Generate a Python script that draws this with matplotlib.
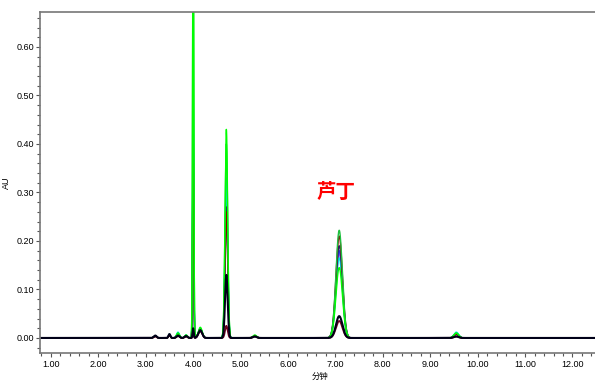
import numpy as np
import matplotlib
matplotlib.use('Agg')
import matplotlib.pyplot as plt
from matplotlib.ticker import MultipleLocator

plt.rcParams['font.family'] = ['Liberation Sans', 'Noto Sans CJK SC', 'DejaVu Sans']

# peak table: retention time (min), width (sigma, min)
rt     = [3.20, 3.50, 3.68, 3.85, 4.00, 4.15, 4.70, 5.30, 7.08, 9.55]
sigma  = [0.03, 0.02, 0.03, 0.03, 0.012, 0.04, 0.028, 0.04, 0.068, 0.05]

# peak heights (AU) for each injection
h_magenta = [0.004, 0.006, 0.008, 0.004, 0.38, 0.018, 0.285, 0.004, 0.175, 0.008]
h_blue    = [0.004, 0.006, 0.008, 0.004, 0.40, 0.018, 0.300, 0.004, 0.180, 0.008]
h_cyan    = [0.004, 0.008, 0.012, 0.006, 0.50, 0.020, 0.330, 0.005, 0.165, 0.012]
h_navy    = [0.004, 0.006, 0.008, 0.004, 0.42, 0.018, 0.270, 0.004, 0.190, 0.008]
h_darkred = [0.004, 0.006, 0.008, 0.004, 0.36, 0.018, 0.260, 0.004, 0.210, 0.008]
h_green   = [0.004, 0.006, 0.010, 0.006, 0.90, 0.020, 0.400, 0.005, 0.222, 0.010]
h_lime    = [0.004, 0.006, 0.010, 0.006, 0.95, 0.022, 0.430, 0.006, 0.145, 0.010]
h_maroon  = [0.003, 0.006, 0.004, 0.003, 0.012, 0.014, 0.025, 0.003, 0.035, 0.003]
h_black   = [0.005, 0.008, 0.005, 0.004, 0.020, 0.016, 0.130, 0.003, 0.045, 0.003]

traces = [
    (h_magenta, '#d040e0', 1.0),
    (h_blue, '#2040ff', 1.0),
    (h_cyan, '#00e8e8', 1.0),
    (h_navy, '#202070', 1.0),
    (h_darkred, '#8b0000', 1.0),
    (h_green, '#20c040', 1.0),
    (h_lime, '#00ff00', 1.0),
    (h_maroon, '#700020', 1.3),
    (h_black, '#000018', 1.5),
]

t = np.linspace(0.8, 12.6, 8000)

fig = plt.figure(figsize=(5.95, 3.81), dpi=100)
ax = fig.add_axes([40/595, 1-353/381, 1-40/595+0.01, (353-12)/381])

for h, col, lw in traces:
    y = np.zeros_like(t)
    for r, s, a in zip(rt, sigma, h):
        y += a * np.exp(-0.5 * ((t - r) / s) ** 2)
    ax.plot(t, y, color=col, lw=lw)

ax.set_xlim(0.77, 12.6)
ax.set_ylim(-0.031, 0.672)
ax.xaxis.set_major_locator(MultipleLocator(1.0))
ax.xaxis.set_minor_locator(MultipleLocator(0.2))
ax.yaxis.set_major_locator(MultipleLocator(0.1))
ax.yaxis.set_minor_locator(MultipleLocator(0.02))
ax.xaxis.set_major_formatter(plt.FuncFormatter(lambda v, p: '%.2f' % v))
ax.yaxis.set_major_formatter(plt.FuncFormatter(lambda v, p: '%.2f' % v))
ax.tick_params(which='major', direction='out', length=3, width=0.8, labelsize=6.5, pad=2, color='#555555')
ax.tick_params(which='minor', direction='out', length=2, width=0.8, color='#555555')
ax.tick_params(axis='y', pad=1)
for sp in ax.spines.values():
    sp.set_color('#777777')
    sp.set_linewidth(1.2)

ax.set_xlabel('分钟', fontsize=6, labelpad=2, family=['Noto Sans CJK SC'])
ax.set_ylabel('AU', fontsize=6.5, labelpad=4)
ax.text(7.02, 0.30, '芦丁', color='red', fontsize=14, fontweight='bold',
        ha='center', va='center', family=['Noto Sans CJK SC'])

fig.savefig('out.png', dpi=100)
